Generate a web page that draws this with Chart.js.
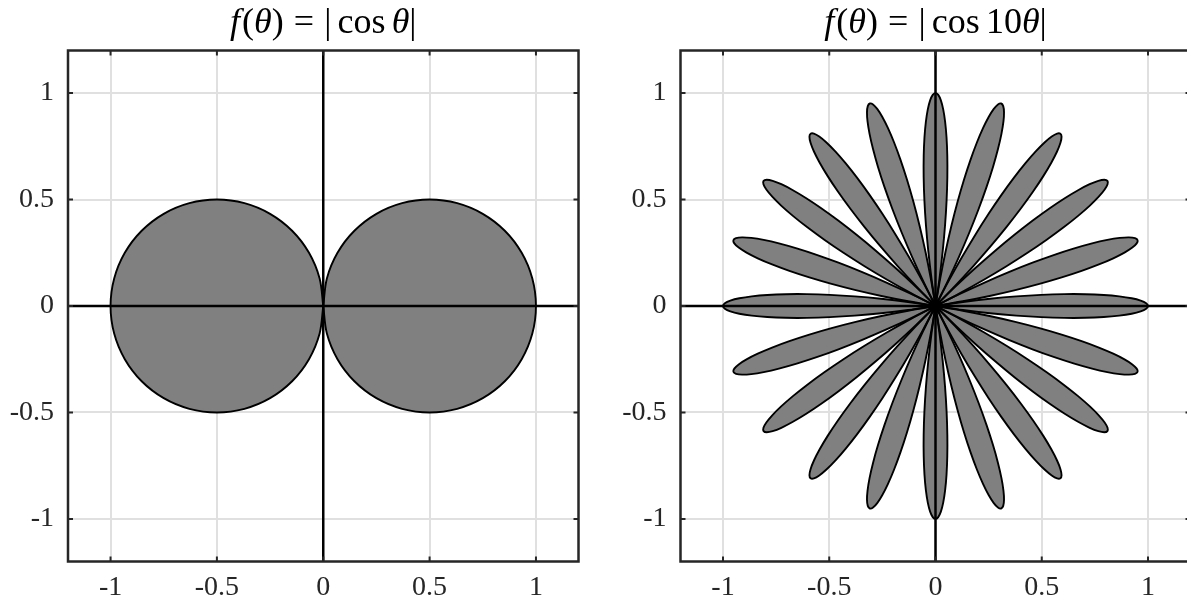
<!DOCTYPE html>
<html>
<head>
<meta charset="utf-8">
<script src="https://cdn.jsdelivr.net/npm/chart.js@4.4.1/dist/chart.umd.min.js"></script>
<style>
    html, body { margin: 0; padding: 0; background: #fff; overflow: hidden; width: 1187px; height: 605px; }
    .panel { position: absolute; top: 0; width: 600px; height: 605px; }
</style>
</head>
<body>
<div class="panel" style="left:0"><canvas id="chartCos"></canvas></div>
<div class="panel" style="left:600px"><canvas id="chartCos10"></canvas></div>
<script>
// ================== DATA ==================
const tickValues = [-1, -0.5, 0, 0.5, 1];
const tickLabels = ['-1', '-0.5', '0', '0.5', '1'];

// one lobe of the curve: step k goes from one edge of the lobe (-12) to the other (12)
const lobeSteps = [-12, -11, -10, -9, -8, -7, -6, -5, -4, -3, -2, -1, 0, 1, 2, 3, 4, 5, 6, 7, 8, 9, 10, 11, 12];
const lobeRadius = [0, 0.1305, 0.2588, 0.3827, 0.5, 0.6088, 0.7071, 0.7934, 0.866, 0.9239, 0.9659, 0.9914, 1,
                    0.9914, 0.9659, 0.9239, 0.866, 0.7934, 0.7071, 0.6088, 0.5, 0.3827, 0.2588, 0.1305, 0];

// f = |cos θ| : two lobes, 90° half width
const lobesCos = [0, 180];
const halfWidthCos = 90;

// f = |cos 10θ| : twenty lobes, 9° half width
const lobesCos10 = [0, 18, 36, 54, 72, 90, 108, 126, 144, 162, 180, 198, 216, 234, 252, 270, 288, 306, 324, 342];
const halfWidthCos10 = 9;

const titleCos = [
    { t: 'f', it: true }, { gap: 0.06 }, { t: '(' }, { t: 'θ', it: true }, { t: ')' }, { gap: 0.28 }, { t: '=' }, { gap: 0.28 },
    { t: '|' }, { gap: 0.17 }, { t: 'cos' }, { gap: 0.17 }, { t: 'θ', it: true }, { t: '|' }
];
const titleCos10 = [
    { t: 'f', it: true }, { gap: 0.06 }, { t: '(' }, { t: 'θ', it: true }, { t: ')' }, { gap: 0.28 }, { t: '=' }, { gap: 0.28 },
    { t: '|' }, { gap: 0.17 }, { t: 'cos' }, { gap: 0.17 }, { t: '10' }, { t: 'θ', it: true }, { t: '|' }
];

// polar -> cartesian for one lobe
function lobePoints(centre, halfWidth) {
    return lobeSteps.map((k, i) => {
        const a = (centre + k * halfWidth / 12) * Math.PI / 180;
        return { x: lobeRadius[i] * Math.cos(a), y: lobeRadius[i] * Math.sin(a) };
    });
}

// ================== DRAWING HELPERS ==================
const SERIF = '"Liberation Serif", "DejaVu Serif", serif';

function dibujarTitulo(ctx, parts, cx, baseline, size) {
    let total = 0;
    parts.forEach(p => {
        if (p.gap) { total += p.gap * size; return; }
        ctx.font = (p.it ? 'italic ' : '') + size + 'px ' + SERIF;
        total += ctx.measureText(p.t).width;
    });
    let x = cx - total / 2;
    ctx.fillStyle = '#000';
    ctx.textBaseline = 'alphabetic';
    ctx.textAlign = 'left';
    parts.forEach(p => {
        if (p.gap) { x += p.gap * size; return; }
        ctx.font = (p.it ? 'italic ' : '') + size + 'px ' + SERIF;
        ctx.fillText(p.t, x, baseline);
        x += ctx.measureText(p.t).width;
    });
}

function dibujarEjesCero(chart) {
    const { ctx, chartArea: a, scales } = chart;
    const x0 = scales.x.getPixelForValue(0);
    const y0 = scales.y.getPixelForValue(0);
    ctx.save();
    ctx.strokeStyle = '#000';
    ctx.lineWidth = 2.5;
    ctx.beginPath();
    ctx.moveTo(x0, a.top); ctx.lineTo(x0, a.bottom);
    ctx.moveTo(a.left, y0); ctx.lineTo(a.right, y0);
    ctx.stroke();
    ctx.restore();
}

const marcoPlugin = {
    id: 'marco',
    beforeDatasetsDraw(chart, args, opts) {
        if (!opts.axesOnTop) dibujarEjesCero(chart);
    },
    afterDatasetsDraw(chart, args, opts) {
        if (opts.axesOnTop) dibujarEjesCero(chart);
    },
    afterDraw(chart, args, opts) {
        const { ctx, chartArea: a, scales } = chart;
        ctx.save();
        ctx.strokeStyle = '#262626';
        ctx.lineWidth = 2;
        ctx.beginPath();
        tickValues.forEach(v => {
            const px = scales.x.getPixelForValue(v);
            const py = scales.y.getPixelForValue(v);
            ctx.moveTo(px, a.bottom); ctx.lineTo(px, a.bottom - 5);
            ctx.moveTo(px, a.top); ctx.lineTo(px, a.top + 5);
            ctx.moveTo(a.left, py); ctx.lineTo(a.left + 5, py);
            ctx.moveTo(a.right, py); ctx.lineTo(a.right - 5, py);
        });
        ctx.stroke();
        ctx.lineWidth = 2.5;
        ctx.strokeRect(a.left, a.top, a.right - a.left, a.bottom - a.top);
        dibujarTitulo(ctx, opts.title, (a.left + a.right) / 2, 33, 36);
        ctx.restore();
    }
};

function configEje(size, horizontal) {
    return {
        type: 'linear',
        min: -1.2,
        max: 1.2,
        afterBuildTicks: s => { s.ticks = tickValues.map(v => ({ value: v })); },
        afterFit: s => { if (horizontal) s.height = size; else s.width = size; },
        grid: { color: '#e0e0e0', lineWidth: 2, drawTicks: false },
        border: { display: false },
        ticks: {
            padding: horizontal ? 9 : 14,
            color: '#262626',
            autoSkip: false,
            maxRotation: 0,
            font: { family: SERIF, size: 28 },
            callback: (v, i) => tickLabels[i]
        }
    };
}

// ================== CHARTS ==================
function crearGrafico(id, lobes, halfWidth, title, yWidth, padRight, axesOnTop) {
    return new Chart(document.getElementById(id), {
        type: 'scatter',
        data: {
            datasets: lobes.map(c => ({
                data: lobePoints(c, halfWidth),
                showLine: true,
                fill: 'shape',
                backgroundColor: '#808080',
                borderColor: '#000',
                borderWidth: 1.9,
                pointRadius: 0,
                tension: 0.33
            }))
        },
        options: {
            responsive: true,
            maintainAspectRatio: false,
            animation: false,
            events: [],
            layout: { padding: { top: 50.5, right: padRight, left: 0, bottom: 0 } },
            plugins: {
                legend: { display: false },
                tooltip: { enabled: false },
                title: { display: false },
                filler: { drawTime: 'beforeDatasetsDraw' },
                marco: { title: title, axesOnTop: axesOnTop }
            },
            scales: {
                x: configEje(43.5, true),
                y: configEje(yWidth, false)
            }
        },
        plugins: [marcoPlugin]
    });
}

crearGrafico('chartCos', lobesCos, halfWidthCos, titleCos, 68, 21.5, true);
crearGrafico('chartCos10', lobesCos10, halfWidthCos10, titleCos10, 80.5, 9.5, false);
</script>
</body>
</html>
